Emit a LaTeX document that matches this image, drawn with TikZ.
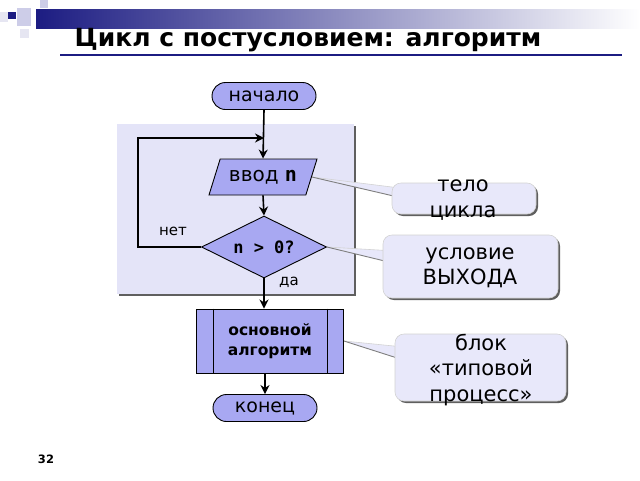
\documentclass[tikz,border=0pt]{standalone}
\usepackage{fontspec}
\setmainfont{DejaVu Sans}
\setmonofont{DejaVu Sans Mono}
\usetikzlibrary{shapes.geometric,shapes.misc,calc,shadows,arrows.meta}
\definecolor{flow}{RGB}{168,168,242}
\definecolor{bgl}{RGB}{228,228,248}
\definecolor{cfill}{RGB}{232,232,250}
\definecolor{navy}{RGB}{28,28,130}
\definecolor{shad}{RGB}{95,95,95}
\definecolor{sqA}{RGB}{170,170,215}
\definecolor{sqB}{RGB}{205,205,232}
\definecolor{sqC}{RGB}{230,230,242}
\pgfdeclarelayer{back}
\pgfdeclarelayer{mid}
\pgfsetlayers{back,mid,main}
\tikzset{
  flowbox/.style={draw=black, line width=0.9pt, fill=flow, font=\fontsize{19}{22}\selectfont},
  term/.style={flowbox, rounded rectangle, minimum width=104pt, minimum height=27pt, inner sep=0pt},
  arr/.style={line width=1.6pt, -{Stealth[length=9pt,width=9pt]}},
  callbox/.style={rectangle, rounded corners=9pt, fill=cfill, draw=gray!35, line width=0.6pt,
     drop shadow={shadow xshift=2pt, shadow yshift=-2pt, fill=shad, opacity=1}},
  calltext/.style={align=center, font=\fontsize{21}{25.5}\selectfont},
  lbl/.style={font=\fontsize{15}{18}\selectfont}
}
\begin{document}
\begin{tikzpicture}[x=1pt,y=-1pt]
\useasboundingbox (0,0) rectangle (640,480);
% header
\shade[left color=navy, right color=white] (36,9) rectangle (640,28);
\fill[sqC] (0,12) rectangle (8,22);
\fill[sqB] (40,0) rectangle (48,8);
\fill[sqB] (17,8) rectangle (31,26);
\fill[sqC] (20,29) rectangle (29,38);
\fill[navy] (8,12) rectangle (16,19);
\node[font=\bfseries\fontsize{25}{28}\selectfont] (title) at (308,40) {Цикл с постусловием: алгоритм};
\draw[navy, line width=2pt] (60,55) -- (622,55);

% flowchart nodes
\node[term] (s) at (264,96) {начало};
\node[flowbox, trapezium, trapezium left angle=55, trapezium right angle=125,
      trapezium stretches body, minimum width=108pt, minimum height=36pt, inner sep=1pt,
      font=\fontsize{20}{22}\selectfont] (i) at (263,177)
      {ввод \textbf{\ttfamily n}};
\node[flowbox, diamond, aspect=2, minimum width=125pt, minimum height=62pt, inner sep=0pt,
      font=\ttfamily\bfseries\fontsize{17}{20}\selectfont] (d) at (264,247) {n > 0?};
\node[flowbox, minimum width=147pt, minimum height=64pt, align=center,
      font=\bfseries\fontsize{15.5}{20}\selectfont] (p) at (270,341) {основной\\алгоритм};
\draw[line width=0.9pt] ($(p.north west)+(17,0)$) -- ($(p.south west)+(17,0)$);
\draw[line width=0.9pt] ($(p.north east)+(-17,0)$) -- ($(p.south east)+(-17,0)$);
\node[term] (e) at (265,408) {конец};
\coordinate (j) at (264,138);

% connectors
\draw[arr] (s.south) -- (i.north);
\draw[arr] (d.west) -- ++(-63,0) |- (j);
\draw[arr] (i.south) -- (d.north);
\draw[arr] (d.south) -- (d.south |- p.north);
\draw[arr] (p.south -| e.north) -- (e.north);
\node[lbl] (no) at (173,231) {нет};
\node[lbl] (yes) at (289,282) {да};

% callouts
\node[callbox, minimum width=144pt, minimum height=31pt] (c1) at (464,198.5) {};
\node[calltext] (c1t) at (463,200) {тело\\цикла};
\node[callbox, minimum width=175pt, minimum height=63pt] (c2) at (470.5,266.5) {};
\node[calltext] (c2t) at (470,268) {условие\\ВЫХОДА};
\node[callbox, minimum width=171pt, minimum height=67pt] (c3) at (480.5,367.5) {};
\node[calltext] (c3t) at (481,370) {блок\\«типовой\\процесс»};

\coordinate (c1a) at ($(c1.west)+(4,-11)$);
\coordinate (c1b) at ($(c1.west)+(4,-2)$);
\coordinate (c2a) at ($(c2.west)+(4,-16)$);
\coordinate (c2b) at ($(c2.west)+(4,-5)$);
\coordinate (c3a) at ($(c3.west)+(4,-21)$);
\coordinate (c3b) at ($(c3.west)+(4,-9)$);

\begin{pgfonlayer}{mid}
  \fill[cfill] (i.east) -- (c1a) -- (c1b) -- cycle;
  \draw[gray!35, line width=0.6pt] (i.east) -- (c1a);
  \draw[shad!80, line width=0.9pt] (i.east) -- (c1b);
  \fill[cfill] (d.east) -- (c2a) -- (c2b) -- cycle;
  \draw[gray!35, line width=0.6pt] (d.east) -- (c2a);
  \draw[shad!80, line width=0.9pt] (d.east) -- (c2b);
  \fill[cfill] (p.east) -- (c3a) -- (c3b) -- cycle;
  \draw[gray!35, line width=0.6pt] (p.east) -- (c3a);
  \draw[shad!80, line width=0.9pt] (p.east) -- (c3b);
\end{pgfonlayer}
\begin{pgfonlayer}{back}
  \node[fill=bgl, minimum width=237pt, minimum height=170pt, inner sep=0pt,
        drop shadow={shadow xshift=2pt, shadow yshift=-2pt, fill=shad, opacity=1}] (bgr) at (235.5,209) {};
\end{pgfonlayer}

\node[font=\bfseries\fontsize{11.5}{13}\selectfont] (pn) at (46,459) {32};
\end{tikzpicture}
\end{document}
